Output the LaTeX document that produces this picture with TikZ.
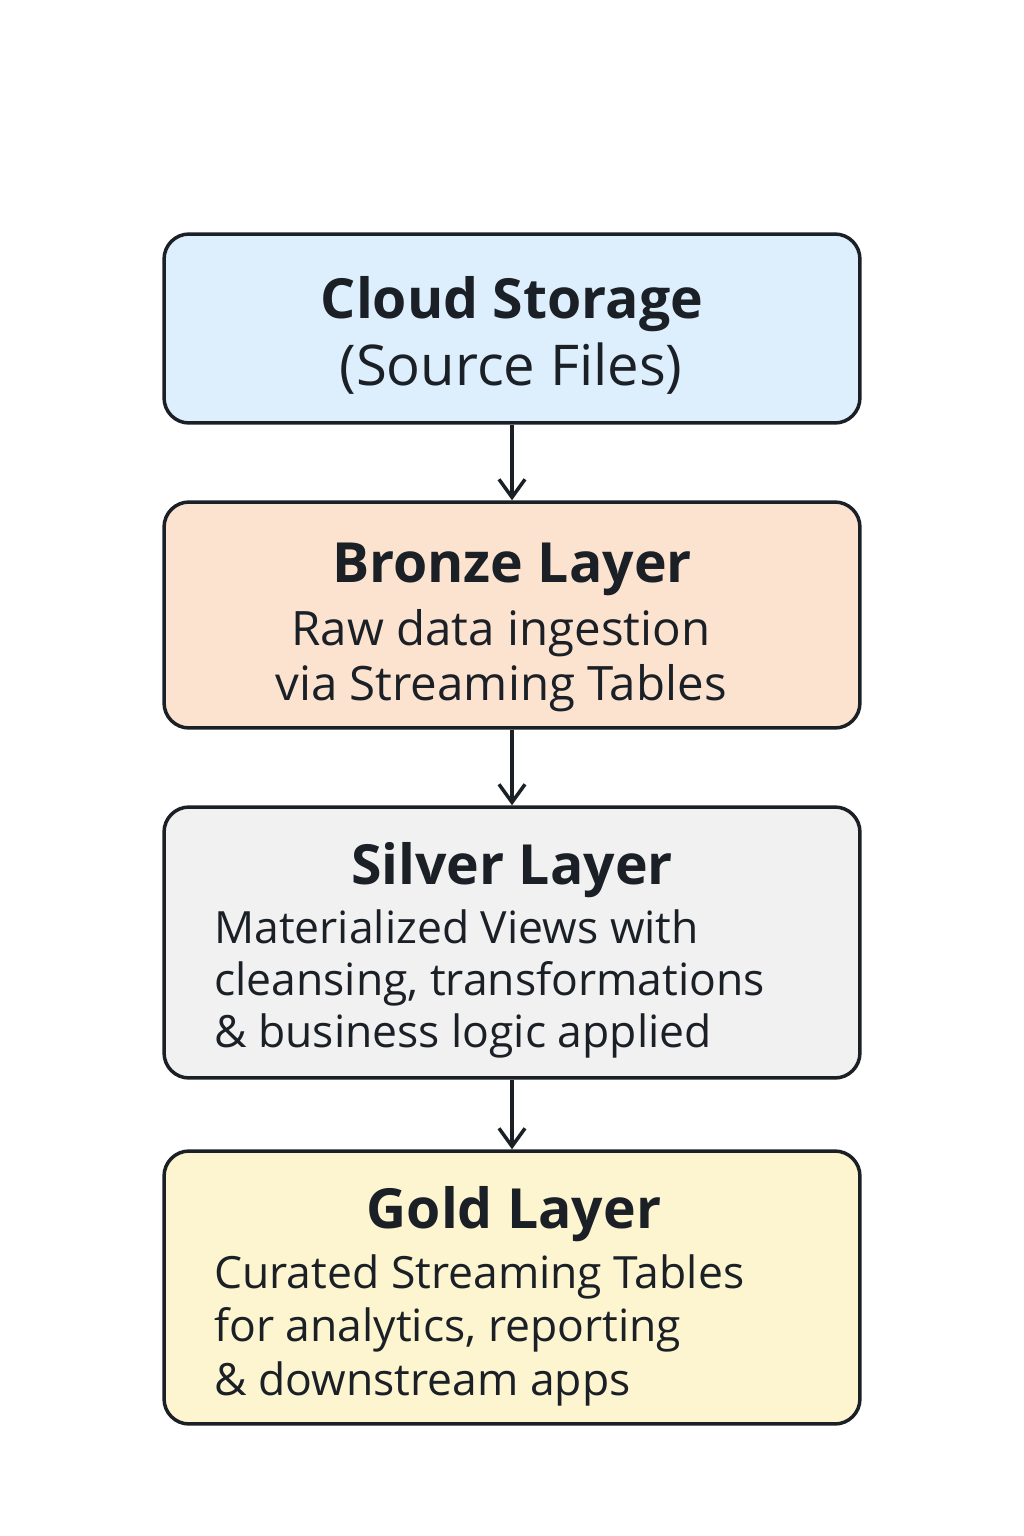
\documentclass[tikz,border=0pt]{standalone}
\usepackage{fontspec}
\setmainfont{Open Sans}
\usepackage{tikz}
\usetikzlibrary{arrows.meta, positioning}

\definecolor{ink}{HTML}{1B2027}
\definecolor{cloudfill}{HTML}{DDEEFD}
\definecolor{bronzefill}{HTML}{FCE3D0}
\definecolor{silverfill}{HTML}{F1F1F1}
\definecolor{goldfill}{HTML}{FDF5CF}

\begin{document}
\begin{tikzpicture}[x=0.02cm, y=-0.02cm,
    layer/.style={draw=ink, line width=0.07cm, rounded corners=0.5cm, minimum width=13.92cm},
    heading/.style={text=ink, anchor=base, inner sep=0pt, font=\fontsize{31.5}{34}\selectfont\bfseries},
    body/.style={text=ink, inner sep=0pt, font=\fontsize{25.3}{30}\selectfont},
    flow/.style={draw=ink, line width=0.07cm, -{Straight Barb[length=0.36cm, width=0.52cm, line width=0.07cm]}}]
 				\useasboundingbox (0,0) rectangle (1024,1536);

 				\node[layer, fill=cloudfill, minimum height=3.78cm] (cloud) at (512,328.5) {};
 				\node[layer, fill=bronzefill, minimum height=4.52cm] (bronze) at (512,615) {};
 				\node[layer, fill=silverfill, minimum height=5.42cm] (silver) at (512,942.5) {};
 				\node[layer, fill=goldfill, minimum height=5.46cm] (gold) at (512,1287.5) {};

 				\node[heading] (cloudT) at (512,318) {Cloud Storage};
 				\node[body, anchor=base, font=\fontsize{32}{36}\selectfont] (cloudB) at (511,385) {(Source Files)};

 				\node[heading] (bronzeT) at (512,582) {Bronze Layer};
 				\node[body, anchor=base, align=center, font=\fontsize{27}{31.3}\selectfont] (bronzeB) at (501,700) {Raw data ingestion\\via Streaming Tables};

 				\node[heading] (silverT) at (512,884) {Silver Layer};
 				\node[body, anchor=base west, align=left, font=\fontsize{25.3}{29.6}\selectfont] (silverB) at (214,1047) {Materialized Views with\\cleansing, transformations\\\& business logic applied};

 				\node[heading] (goldT) at (514,1228) {Gold Layer};
 				\node[body, anchor=base west, align=left, font=\fontsize{25.3}{30.4}\selectfont] (goldB) at (214,1395) {Curated Streaming Tables\\for analytics, reporting\\\& downstream apps};

 				\draw[flow] (cloud) -- (bronze);
 				\draw[flow] (bronze) -- (silver);
 				\draw[flow] (silver) -- (gold);
\end{tikzpicture}
\end{document}
